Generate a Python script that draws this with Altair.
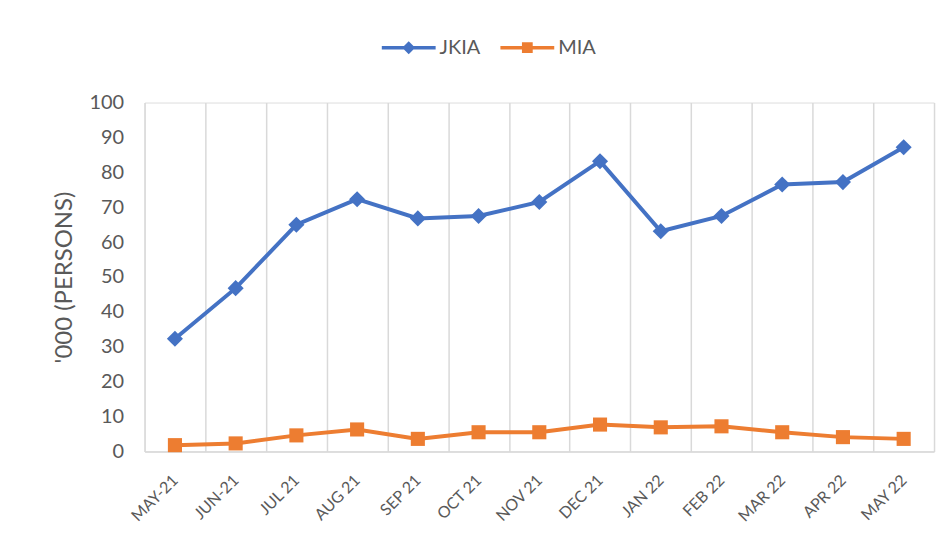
import altair as alt
import pandas as pd

months = ["MAY-21", "JUN-21", "JUL 21", "AUG 21", "SEP 21", "OCT 21", "NOV 21",
          "DEC 21", "JAN 22", "FEB 22", "MAR 22", "APR 22", "MAY 22"]
jkia = [32.3, 46.8, 65.0, 72.3, 66.8, 67.5, 71.5, 83.2, 63.1, 67.5, 76.5, 77.2, 87.2]
mia = [1.8, 2.3, 4.6, 6.3, 3.6, 5.5, 5.5, 7.7, 6.9, 7.2, 5.5, 4.1, 3.6]
series = ["JKIA", "MIA"]
colors = ["#4472C4", "#ED7D31"]

rows = []
for i, m in enumerate(months):
    rows.append({"Month": m, "Series": "JKIA", "Value": jkia[i]})
    rows.append({"Month": m, "Series": "MIA", "Value": mia[i]})
df = pd.DataFrame(rows)

FONT = "Lato"
GREY = "#595959"

x_enc = alt.X(
    "Month:N", sort=months, title=None,
    scale=alt.Scale(type="band", paddingInner=0, paddingOuter=0),
    axis=alt.Axis(labelAngle=-45, labelAlign="right", labelBaseline="middle",
                  labelPadding=26, labelFontSize=16, labelColor=GREY, labelFont=FONT,
                  ticks=False, domain=True, domainColor="#d9d9d9", domainWidth=1.5,
                  grid=True, gridColor="#d9d9d9", gridWidth=1.5, tickBand="extent"),
)
y_enc = alt.Y(
    "Value:Q", title="'000 (PERSONS)",
    scale=alt.Scale(domain=[0, 100], nice=False),
    axis=alt.Axis(values=list(range(0, 101, 10)), grid=False, domain=False, ticks=False,
                  labelFontSize=20, labelColor=GREY, labelFont=FONT, labelPadding=21,
                  titleFontSize=24, titleColor=GREY, titleFont=FONT, titleFontWeight="normal",
                  titlePadding=12),
)
color_scale = alt.Scale(domain=series, range=colors)

path_j = "M-1,-0.065 L1,-0.065 L1,0.065 L-1,0.065 Z M0,-0.24 L0.24,0 L0,0.24 L-0.24,0 Z"
path_m = "M-1,-0.065 L1,-0.065 L1,0.065 L-1,0.065 Z M-0.2,-0.2 L0.2,-0.2 L0.2,0.2 L-0.2,0.2 Z"

base = alt.Chart(df)

legend_layer = base.mark_point(filled=True, opacity=0, size=1).encode(
    x=x_enc, y=y_enc,
    color=alt.Color("Series:N", scale=color_scale,
                    legend=alt.Legend(title=None, orient="none", direction="horizontal",
                                      legendX=238, legendY=-82,
                                      symbolSize=2916, symbolOpacity=1, symbolStrokeWidth=0,
                                      labelFontSize=20, labelColor=GREY, labelFont=FONT,
                                      labelOffset=4, columnPadding=20)),
    shape=alt.Shape("Series:N", scale=alt.Scale(domain=series, range=[path_j, path_m])),
)

line = base.mark_line(strokeWidth=4).encode(
    x=x_enc, y=y_enc,
    color=alt.Color("Series:N", scale=color_scale),
)

pts_j = base.mark_point(filled=True, opacity=1, shape="diamond", size=260).encode(
    x=x_enc, y=y_enc,
    color=alt.Color("Series:N", scale=color_scale),
).transform_filter(alt.datum.Series == "JKIA")

pts_m = base.mark_point(filled=True, opacity=1, shape="square", size=200).encode(
    x=x_enc, y=y_enc,
    color=alt.Color("Series:N", scale=color_scale),
).transform_filter(alt.datum.Series == "MIA")

chart = alt.layer(legend_layer, line, pts_j, pts_m).properties(
    width=792, height=350,
    autosize=alt.AutoSizeParams(type="none"),
    padding={"left": 137, "top": 94, "right": 10, "bottom": 90},
).configure_view(stroke=None).configure(background="white")

chart.save("out.html", embed_options={"renderer": "svg", "actions": False})
